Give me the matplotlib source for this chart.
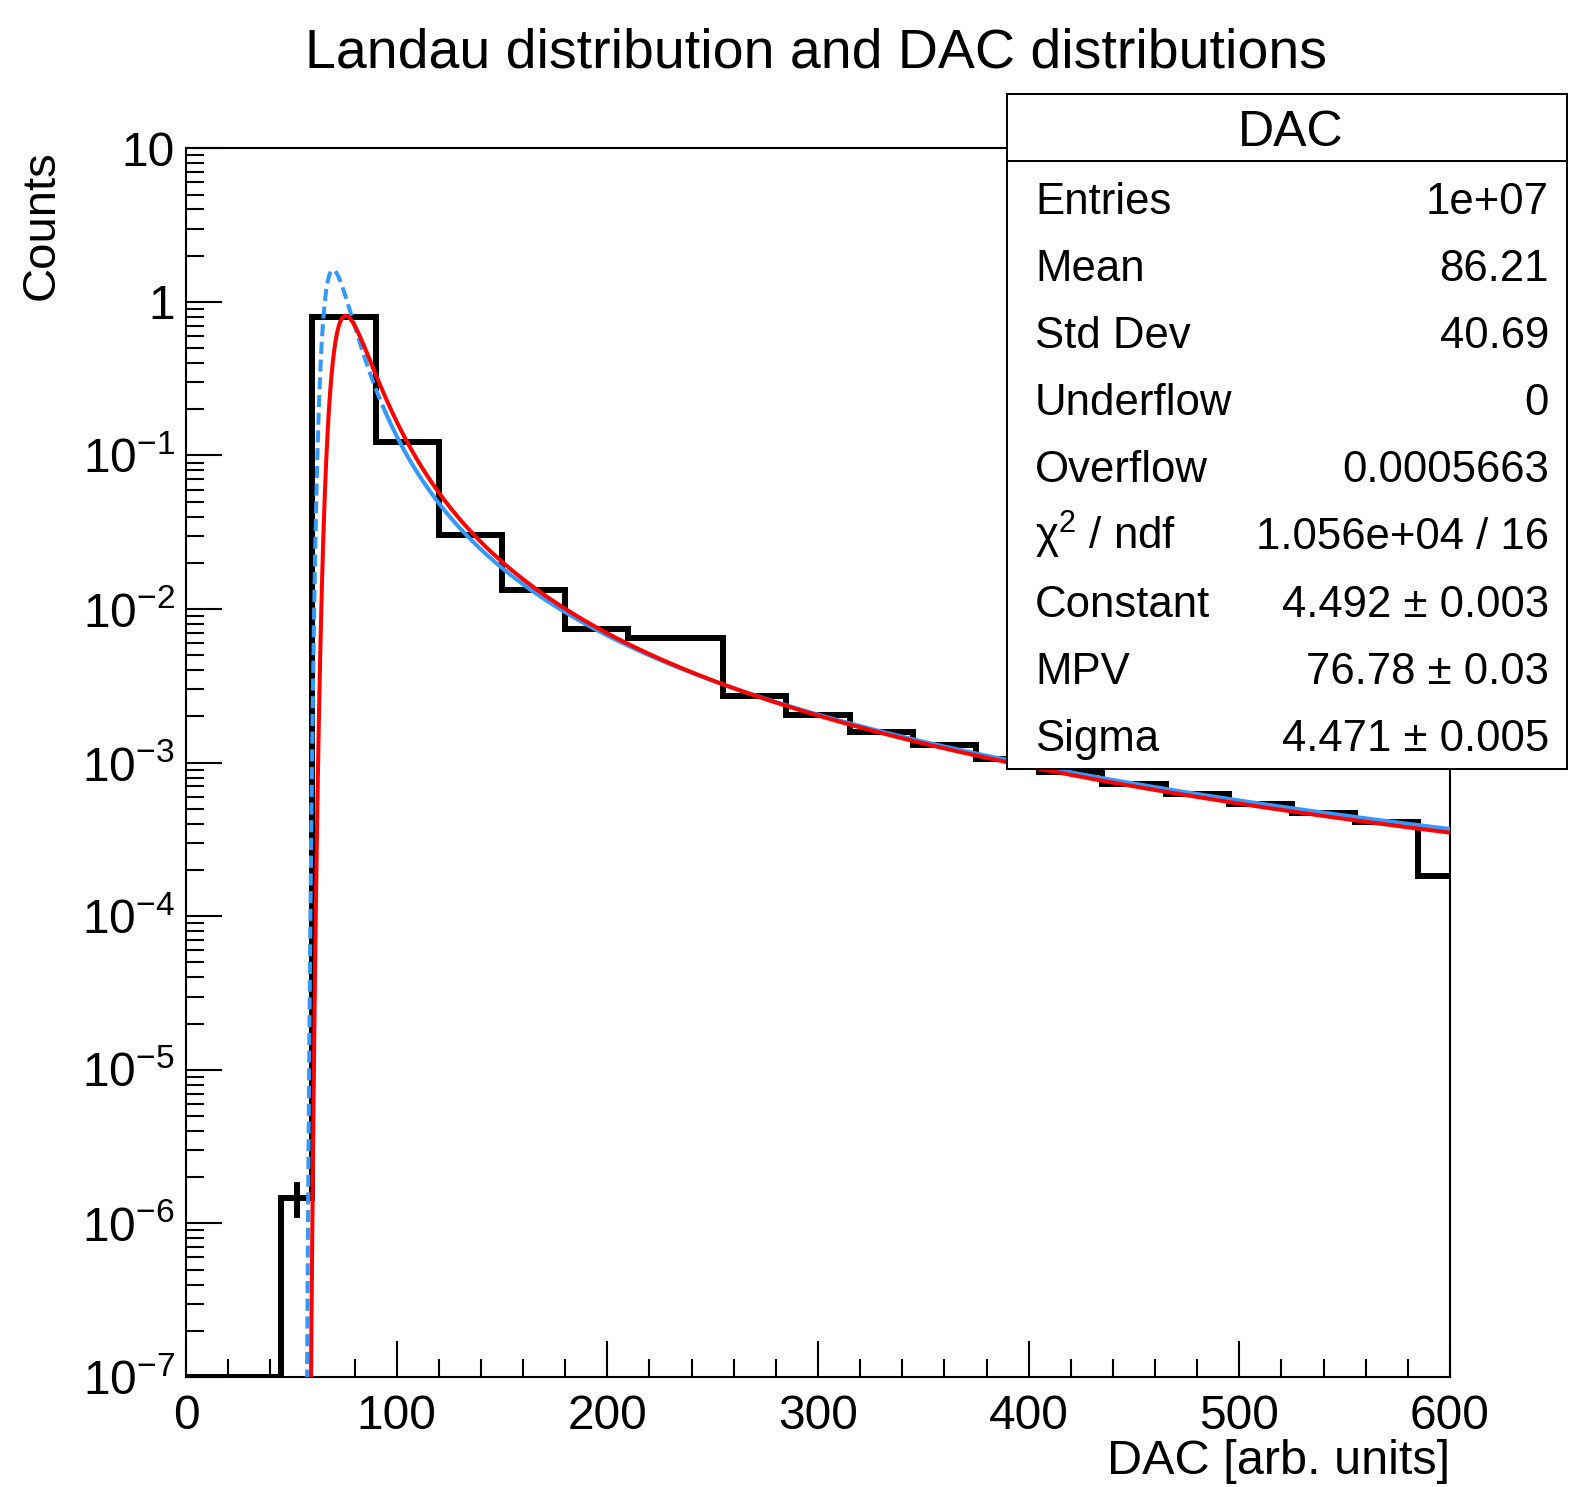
import numpy as np
import matplotlib
matplotlib.use("Agg")
import matplotlib.pyplot as plt
from matplotlib.ticker import MultipleLocator, LogLocator, FuncFormatter

plt.rcParams["font.family"] = ["Liberation Sans", "DejaVu Sans"]
plt.rcParams["mathtext.default"] = "regular"

# DAC histogram, variable bin widths, normalised contents
bin_edges = [0, 45, 60, 90, 120, 150, 180, 210, 255, 285, 315, 345, 375,
             405, 435, 465, 495, 525, 555, 585, 600]
bin_counts = [0, 1.47e-6, 0.80, 0.123, 0.0303, 0.0133, 0.00739, 0.00646,
              0.00273, 0.00205, 0.00159, 0.00131, 0.00105, 0.00087,
              0.000723, 0.000622, 0.000536, 0.000469, 0.000413, 0.000183]
bin_errors = [0, 0.38e-6, 0, 0, 0, 0, 0, 0, 0, 0, 0, 0, 0, 0, 0, 0, 0, 0, 0, 0]

# landau fit (red) and input landau (blue)
fit_constant, fit_mpv, fit_sigma = 4.492, 76.78, 4.471
ref_constant, ref_mpv, ref_sigma = 8.93, 70.54, 3.32

stats_title = "DAC"
stats_labels = ["Entries", "Mean", "Std Dev", "Underflow", "Overflow",
                r"$\chi^{2}$ / ndf", "Constant", "MPV", "Sigma"]
stats_values = ["1e+07", "86.21", "40.69", "0", "0.0005663", "1.056e+04 / 16",
                "4.492 ± 0.003", "76.78 ± 0.03", "4.471 ± 0.005"]


def denlan(v):
    # CERNLIB G110 approximation of the standard Landau density
    p1 = [0.4259894875, -0.1249762550, 0.03984243700, -0.006298287635, 0.001511162253]
    q1 = [1.0, -0.3388260629, 0.09594393323, -0.01608042283, 0.003778942063]
    p2 = [0.1788541609, 0.1173957403, 0.01488850518, -0.001394989411, 0.0001283617211]
    q2 = [1.0, 0.7428795082, 0.3153932961, 0.06694219548, 0.008790609714]
    p3 = [0.1788544503, 0.09359161662, 0.006325387654, 0.00006611667319, -0.000002031049101]
    q3 = [1.0, 0.6097809921, 0.2560616665, 0.04746722384, 0.006957301675]
    p4 = [0.9874054407, 118.6723273, 849.2794360, -743.7792444, 427.0262186]
    q4 = [1.0, 106.8615961, 337.6496214, 2016.712389, 1597.063511]
    p5 = [1.003675074, 167.5702434, 4789.711289, 21217.86767, -22324.94910]
    q5 = [1.0, 156.9424537, 3745.310488, 9834.698876, 66924.28357]
    p6 = [1.000827619, 664.9143136, 62972.92665, 475554.6998, -5743609.109]
    q6 = [1.0, 651.4101098, 56974.73333, 165917.4725, -2815759.939]
    a1 = [0.04166666667, -0.01996527778, 0.02709538966]
    a2 = [-1.845568670, -4.284640743]

    def ratio(p, q, t):
        num = p[0] + (p[1] + (p[2] + (p[3] + p[4] * t) * t) * t) * t
        den = q[0] + (q[1] + (q[2] + (q[3] + q[4] * t) * t) * t) * t
        return num / den

    if v < -5.5:
        u = np.exp(v + 1.0)
        if u < 1e-10:
            return 0.0
        return 0.3989422803 * (np.exp(-1 / u) / np.sqrt(u)) * (1 + (a1[0] + (a1[1] + a1[2] * u) * u) * u)
    if v < -1:
        u = np.exp(-v - 1)
        return np.exp(-u) * np.sqrt(u) * ratio(p1, q1, v)
    if v < 1:
        return ratio(p2, q2, v)
    if v < 5:
        return ratio(p3, q3, v)
    if v < 12:
        u = 1 / v
        return u * u * ratio(p4, q4, u)
    if v < 50:
        u = 1 / v
        return u * u * ratio(p5, q5, u)
    if v < 300:
        u = 1 / v
        return u * u * ratio(p6, q6, u)
    u = 1 / (v - v * np.log(v) / (v + 1))
    return u * u * (1 + (a2[0] + a2[1] * u) * u)


def landau(x, mpv, sigma):
    return np.array([denlan((xi - mpv) / sigma) for xi in x])


W, H = 1573, 1487
fig = plt.figure(figsize=(W / 100, H / 100), dpi=100)
ax = fig.add_axes([186 / W, 1 - 1377 / H, (1450 - 186) / W, (1377 - 148.3) / H])
ax.set_yscale("log")
ax.set_xlim(0, 600)
ax.set_ylim(1e-7, 10)

edges = np.array(bin_edges, dtype=float)
counts = np.array(bin_counts)
errors = np.array(bin_errors)
floor = ax.get_ylim()[0]
ax.stairs(np.where(counts > 0, counts, floor), edges, baseline=None,
          color="black", lw=4.3, joinstyle="miter", zorder=2)
centres = 0.5 * (edges[1:] + edges[:-1])
has_err = errors > 0
ax.errorbar(centres[has_err], counts[has_err], yerr=errors[has_err], fmt="none",
            ecolor="black", elinewidth=4.3, capsize=0, zorder=2)

x = np.linspace(0, 600, 6001)
red = fit_constant * landau(x, fit_mpv, fit_sigma)
blue = ref_constant * landau(x, ref_mpv, ref_sigma)
red[red < 1e-9] = np.nan
blue[blue < 1e-9] = np.nan

blue_col = "#3399ff"
near_peak = x <= 95
ax.plot(x[near_peak], blue[near_peak], color=blue_col, lw=2.9,
        ls=(0, (3.0, 1.4)), zorder=3)
ax.plot(x[x >= 95], blue[x >= 95], color=blue_col, lw=2.9, zorder=3)
ax.plot(x, red, color="red", lw=2.9, zorder=4)

ax.xaxis.set_major_locator(MultipleLocator(100))
ax.xaxis.set_minor_locator(MultipleLocator(20))
ax.yaxis.set_major_locator(LogLocator(base=10, numticks=20))
ax.yaxis.set_minor_locator(LogLocator(base=10, subs=np.arange(2, 10), numticks=20))


def log_label(v, pos):
    k = int(round(np.log10(v)))
    if k == 1:
        return "10"
    if k == 0:
        return "1"
    return rf"$10^{{{k}}}$"


ax.yaxis.set_major_formatter(FuncFormatter(log_label))
ax.tick_params(which="both", direction="in", top=False, right=False, width=1.5)
ax.tick_params(which="major", length=26, labelsize=34.5)
ax.tick_params(which="minor", length=13)
ax.tick_params(axis="x", pad=12)
ax.tick_params(axis="y", pad=8)
for s in ax.spines.values():
    s.set_linewidth(1.5)

fig.text(816 / W, 1 - 67 / H, "Landau distribution and DAC distributions",
         ha="center", va="baseline", fontsize=40)
fig.text(1450 / W, 1 - 1474 / H, "DAC [arb. units]", ha="right", va="baseline",
         fontsize=35)
fig.text(42 / W, 1 - 150 / H, "Counts", rotation=90, ha="center", va="top",
         fontsize=34)

# statistics box
box = fig.add_axes([1007 / W, 1 - 769 / H, (1567 - 1007) / W, (769 - 94) / H])
box.set_xlim(0, 560)
box.set_ylim(675, 0)
box.set_xticks([])
box.set_yticks([])
for s in box.spines.values():
    s.set_linewidth(1.4)
box.axhline(67, color="black", lw=1.4)
box.text(284, 52, stats_title, ha="center", va="baseline", fontsize=36)
for i, (lab, val) in enumerate(zip(stats_labels, stats_values)):
    yb = 120 + 67.1 * i
    box.text(28, yb, lab, ha="left", va="baseline", fontsize=31.5)
    box.text(542, yb, val, ha="right", va="baseline", fontsize=31.5)

fig.savefig("out.png", dpi=100)
